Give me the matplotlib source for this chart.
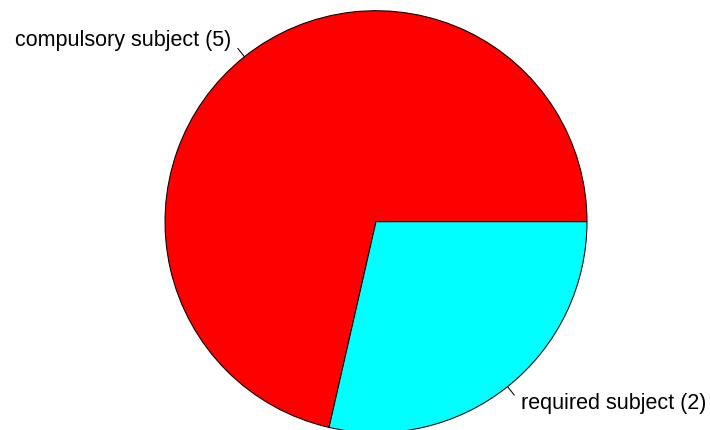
import numpy as np
import matplotlib
matplotlib.use('Agg')
import matplotlib.pyplot as plt

labels = ['compulsory subject (5)', 'required subject (2)']
values = [5, 2]
colors = ['#ff0000', '#00ffff']

W, H = 710, 430
cx, cy, r = 376, H - 221.7, 211

fig = plt.figure(figsize=(W / 100, H / 100), dpi=100)
ax = fig.add_axes([0, 0, 1, 1])
ax.axis('off')

ax.pie(values, colors=colors, startangle=0, counterclock=True,
       center=(cx, cy), radius=r,
       wedgeprops=dict(edgecolor='black', linewidth=0.75))
ax.set_xlim(0, W)
ax.set_ylim(0, H)
ax.set_aspect('equal')

# R 스타일 라벨: 중간 각도에 짧은 선 + 텍스트
frac = np.cumsum([0] + values) / sum(values)
for i, lab in enumerate(labels):
    a = np.pi * (frac[i] + frac[i + 1])
    c, s = np.cos(a), np.sin(a)
    ax.plot([cx + r * c, cx + 1.05 * r * c], [cy + r * s, cy + 1.05 * r * s],
            color='black', lw=0.75)
    ax.text(cx + 1.1 * r * c, cy + 1.1 * r * s, lab,
            ha='left' if c > 0 else 'right', va='center',
            fontsize=15.5, family='Liberation Sans', color='black')

fig.savefig('out.png', dpi=100)
